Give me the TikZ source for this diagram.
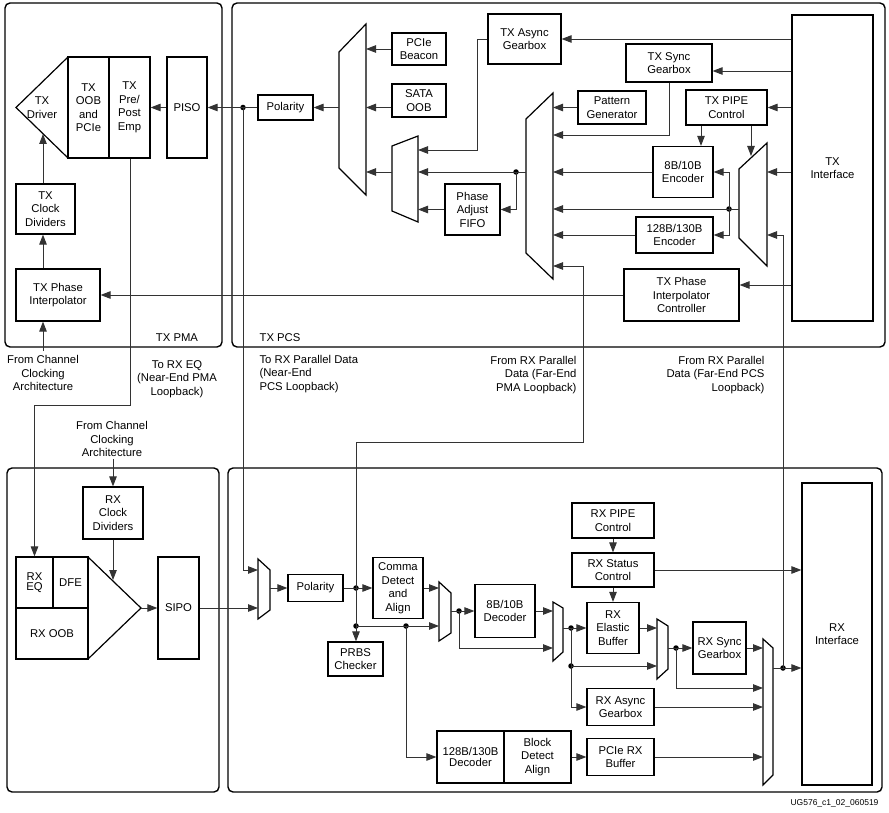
\documentclass[tikz,border=0pt]{standalone}
\usepackage{fontspec}
\setmainfont{Liberation Sans}
\usetikzlibrary{arrows.meta}

\begin{document}
\begin{tikzpicture}[
  x=1pt, y=-1pt,
  font=\fontsize{11.3}{13.5}\selectfont,
  blk/.style   = {draw=black, line width=1.2pt, align=center, inner sep=0pt},
  muxs/.style  = {draw=black, line width=1.2pt, line join=miter},
  area/.style  = {draw=black, line width=1.4pt, rounded corners=5pt},
  wire/.style  = {draw=black!80, line width=0.9pt},
  arr/.style   = {wire, -{Triangle[length=10pt,width=7.5pt]}},
  dot/.style   = {circle, fill=black, inner sep=0pt, minimum size=5.5pt},
  note/.style  = {align=center},
  tight/.style = {font=\fontsize{11.3}{10.5}\selectfont},
]
\useasboundingbox (0,0) rectangle (889,813);

\def\xclk{43}     % x of TX clock chain
\def\ytx{107.5}   % y of TX serial row

% ---- outer areas -----------------------------------------------------------
\draw[area] (5,3) rectangle (222,347);
\draw[area] (232,3) rectangle (885,347);
\draw[area] (7,468) rectangle (219,792);
\draw[area] (228,468) rectangle (882,792);
\node (lblpma) at (177,338) {TX PMA};
\node (lblpcs) at (280,338) {TX PCS};

% ---- TX PMA ----------------------------------------------------------------
\draw[muxs] (68,57) -- (16,\ytx) -- (68,158);
\node[align=center] (drv) at (42,\ytx) {TX\\Driver};
\node[blk, minimum width=41, minimum height=101] (oob) at (88.5,\ytx) {TX\\OOB\\and\\PCIe};
\node[blk, minimum width=41, minimum height=101] (emp) at (129.5,\ytx) {TX\\Pre/\\Post\\Emp};
\node[blk, minimum width=40, minimum height=101] (piso) at (187,\ytx) {PISO};
\node[blk, minimum width=59, minimum height=50] (txclk) at (45.5,209) {TX\\Clock\\Dividers};
\node[blk, minimum width=84, minimum height=52] (txpi) at (58,295) {TX Phase\\Interpolator};
\coordinate (drvedge) at (\xclk,134);
\coordinate (chin) at (\xclk,351);

\draw[arr] (piso.west) -- (emp.east);
\draw[arr] (txclk.north -| \xclk,0) -- (drvedge);
\draw[arr] (txpi.north -| \xclk,0) -- (txclk.south -| \xclk,0);
\draw[arr] (chin) -- (txpi.south -| \xclk,0);

% ---- TX PCS: output side ---------------------------------------------------
\node[blk, minimum width=55, minimum height=25] (txpol) at (285.5,\ytx) {Polarity};
\draw[muxs] (339,52) -- (366,24) -- (366,195) -- (339,168) -- cycle;
\coordinate (m1l) at (339,110);
\coordinate (m1r) at (366,110);
\node[blk, minimum width=54, minimum height=32] (beacon) at (419,49) {PCIe\\Beacon};
\node[blk, minimum width=54, minimum height=33] (sata) at (419,100.5) {SATA\\OOB};
\draw[muxs] (392,146) -- (418,136) -- (418,222) -- (392,211) -- cycle;
\coordinate (m2l) at (392,180);
\coordinate (m2r) at (418,180);
\node[blk, minimum width=73, minimum height=50] (async) at (524.5,39) {TX Async\\Gearbox};
\node[blk, minimum width=55, minimum height=51] (fifo) at (472.5,209.5) {Phase\\Adjust\\FIFO};
\draw[muxs] (526,119) -- (553,93) -- (553,279) -- (526,253) -- cycle;
\coordinate (m3l) at (526,180);
\coordinate (m3r) at (553,180);
\node[dot] (tj) at (243,\ytx) {};
\node[dot] (j3) at (516,172) {};

\draw[arr] (txpol.west) -- (piso.east);
\draw[arr] (m1l |- txpol.east) -- (txpol.east);
\draw[arr] (beacon.west) -- (m1r |- beacon.west);
\draw[arr] (sata.west |- txpol) -- (m1r |- txpol);
\draw[arr] (m2l |- j3) -- (m1r |- j3);
\draw[wire] (m3l |- j3) -- (j3.center);
\draw[arr] (j3.center) -- (m2r |- j3);
\draw[arr] (j3.center) |- (fifo.east);
\draw[arr] (fifo.west) -- (m2r |- fifo.west);
\draw[arr] (async.west) -| (477,150) -- (m2r |- 0,150);

% ---- TX PCS: encoder side --------------------------------------------------
\node[blk, minimum width=81, minimum height=306] (txif) at (832.5,168) {TX\\Interface};
\node[blk, minimum width=86, minimum height=38] (sync) at (669,63) {TX Sync\\Gearbox};
\node[blk, minimum width=68, minimum height=33] (pgen) at (612,\ytx) {Pattern\\Generator};
\node[blk, minimum width=81, minimum height=35] (pipe) at (726.5,\ytx) {TX PIPE\\Control};
\node[blk, minimum width=60, minimum height=51] (enc8) at (683,172) {8B/10B\\Encoder};
\node[blk, minimum width=77, minimum height=36] (enc128) at (674.5,235) {128B/130B\\Encoder};
\node[blk, minimum width=115, minimum height=52] (pictl) at (681.5,295) {TX Phase\\Interpolator\\Controller};
\draw[muxs] (739,169) -- (767,143) -- (767,266) -- (739,238) -- cycle;
\coordinate (m4l) at (739,209);
\coordinate (m4r) at (767,209);
\coordinate (m4top) at (751,156);
\node[dot] (j4) at (729,209) {};

\draw[arr] (txif.west |- async.east) -- (async.east);
\draw[arr] (txif.west |- 0,71) -- (sync.east |- 0,71);
\draw[arr] (sync.south) |- (m3r |- 0,135);
\draw[arr] (pgen.west) -- (m3r |- pgen.west);
\draw[arr] (txif.west |- pipe.east) -- (pipe.east);
\draw[arr] (pipe.south -| 701,0) -- (enc8.north -| 701,0);
\draw[arr] (pipe.south -| m4top) -- (m4top);
\draw[arr] (enc8.west) -- (m3r |- enc8.west);
\draw[wire] (m4l) -- (j4.center);
\draw[arr] (j4.center) -- (m3r |- j4);
\draw[arr] (j4.center) |- (enc8.east);
\draw[arr] (j4.center) |- (enc128.east);
\draw[arr] (enc128.west) -- (m3r |- enc128.west);
\draw[arr] (txif.west |- enc8.east) -- (m4r |- enc8.east);
\draw[arr] (txif.west |- 0,285) -- (pictl.east |- 0,285);
\draw[arr] (pictl.west) -- (txpi.east);

% ---- labels between TX and RX ----------------------------------------------
\node[note] (lclk1) at (43,373) {From Channel\\Clocking\\Architecture};
\node[note] (leq) at (177,379) {To RX EQ\\(Near-End PMA\\Loopback)};
\node[note] (lclk2) at (112,439) {From Channel\\Clocking\\Architecture};
\node[align=left, anchor=west] (lnepcs) at (256,374) {To RX Parallel Data\\(Near-End\\PCS Loopback)};
\node[align=right, anchor=east] (lfepma) at (580,375) {From RX Parallel\\Data (Far-End\\PMA Loopback)};
\node[align=right, anchor=east] (lfepcs) at (768,375) {From RX Parallel\\Data (Far-End PCS\\Loopback)};
\node[font=\fontsize{8.5}{10}\selectfont, anchor=east] (ug) at (882,803) {UG576\_c1\_02\_060519};

% ---- RX PMA ----------------------------------------------------------------
\node[blk, minimum width=60, minimum height=52] (rxclk) at (113,513) {RX\\Clock\\Dividers};
\node[blk, tight, minimum width=37, minimum height=51] (rxeq) at (34.5,582.5) {RX\\EQ};
\node[blk, minimum width=35, minimum height=51] (dfe) at (70.5,582.5) {DFE};
\node[blk, minimum width=72, minimum height=51] (rxoob) at (52,633.5) {RX OOB};
\draw[muxs] (88,557) -- (141,608) -- (88,659);
\node[blk, minimum width=41, minimum height=102] (sipo) at (178.5,608) {SIPO};
\coordinate (rxtip) at (141,608);
\coordinate (rxedge) at (113,580);
\coordinate (chin2) at (113,459);

\draw[arr] (emp.south -| 130,0) |- (rxeq.north |- 0,405) -- (rxeq.north);
\draw[arr] (chin2) -- (rxclk.north);
\draw[arr] (rxclk.south) -- (rxedge);
\draw[arr] (rxtip) -- (sipo.west);

% ---- RX PCS ----------------------------------------------------------------
\draw[muxs] (258,559) -- (270,570) -- (270,610) -- (258,619) -- cycle;
\coordinate (rm1l) at (258,588);
\coordinate (rm1r) at (270,588);
\node[blk, minimum width=55, minimum height=27] (rxpol) at (315.5,588) {Polarity};
\node[blk, minimum width=50, minimum height=61] (comma) at (398,588) {Comma\\Detect\\and\\Align};
\node[blk, minimum width=55, minimum height=34] (prbs) at (355.5,659) {PRBS\\Checker};
\draw[muxs] (439,582) -- (451,593) -- (451,633) -- (439,641) -- cycle;
\coordinate (rm2l) at (439,611);
\coordinate (rm2r) at (451,611);
\node[blk, minimum width=60, minimum height=53] (dec8) at (505,611) {8B/10B\\Decoder};
\draw[muxs] (553,602) -- (563,608) -- (563,652) -- (553,661) -- cycle;
\coordinate (rm3l) at (553,628);
\coordinate (rm3r) at (563,628);
\node[blk, tight, minimum width=67, minimum height=52] (dec128) at (470.5,757) {128B/130B\\Decoder};
\node[blk, minimum width=67, minimum height=52] (bda) at (537.5,757) {Block\\Detect\\Align};
\node[blk, minimum width=82, minimum height=35] (rxpipe) at (613,520.5) {RX PIPE\\Control};
\node[blk, minimum width=82, minimum height=34] (rxstat) at (613,570) {RX Status\\Control};
\node[blk, minimum width=52, minimum height=51] (ebuf) at (613,628) {RX\\Elastic\\Buffer};
\draw[muxs] (657,619) -- (668,626) -- (668,669) -- (657,679) -- cycle;
\coordinate (rm4l) at (657,648);
\coordinate (rm4r) at (668,648);
\node[blk, minimum width=53, minimum height=52] (rxsync) at (719.5,648) {RX Sync\\Gearbox};
\node[blk, minimum width=67, minimum height=37] (rxasync) at (620.5,707) {RX Async\\Gearbox};
\node[blk, minimum width=67, minimum height=37] (pcierx) at (620.5,757) {PCIe RX\\Buffer};
\draw[muxs] (763,639) -- (773,648) -- (773,775) -- (763,785) -- cycle;
\coordinate (rm5l) at (763,668);
\coordinate (rm5r) at (773,668);
\node[blk, minimum width=70, minimum height=302] (rxif) at (837,634) {RX\\Interface};
\node[dot] (rj1) at (356,588) {};
\node[dot] (rj2) at (356,626) {};
\node[dot] (rj3) at (406,626) {};
\node[dot] (rj4) at (459,611) {};
\node[dot] (rj5) at (571,628) {};
\node[dot] (rj6) at (571,666) {};
\node[dot] (rj7) at (676,648) {};
\node[dot] (rj8) at (783,668) {};

\draw[arr] (tj.center) |- (rm1l |- 0,570);
\draw[arr] (sipo.east) -- (rm1l |- sipo.east);
\draw[arr] (rm1r |- rxpol.west) -- (rxpol.west);
\draw[wire] (rxpol.east) -- (rj1.center);
\draw[arr] (rj1.center) -- (comma.west |- rj1);
\draw[wire] (rj1.center) -- (rj2.center);
\draw[arr] (rj2.center) -- (prbs.north -| rj2);
\draw[wire] (rj2.center) -- (rj3.center);
\draw[arr] (rj3.center) -- (rm2l |- rj3);
\draw[arr] (rj3.center) |- (dec128.west);
\draw[arr] (comma.east) -- (rm2l |- comma.east);
\draw[wire] (rm2r) -- (rj4.center);
\draw[arr] (rj4.center) -- (dec8.west);
\draw[arr] (rj4.center) |- (rm3l |- 0,648);
\draw[arr] (dec8.east) -- (rm3l |- dec8.east);
\draw[wire] (rm3r) -- (rj5.center);
\draw[arr] (rj5.center) -- (ebuf.west);
\draw[wire] (rj5.center) -- (rj6.center);
\draw[arr] (rj6.center) -- (rm4l |- rj6);
\draw[arr] (rj6.center) |- (rxasync.west);
\draw[arr] (ebuf.east) -- (rm4l |- ebuf.east);
\draw[wire] (rm4r) -- (rj7.center);
\draw[arr] (rj7.center) -- (rxsync.west);
\draw[arr] (rj7.center) |- (rm5l |- 0,688);
\draw[arr] (rxsync.east) -- (rm5l |- rxsync.east);
\draw[arr] (rxasync.east) -- (rm5l |- rxasync.east);
\draw[arr] (bda.east) -- (pcierx.west);
\draw[arr] (pcierx.east) -- (rm5l |- pcierx.east);
\draw[wire] (rm5r) -- (rj8.center);
\draw[arr] (rj8.center) -- (rxif.west |- rj8);
\draw[arr] (rxpipe.south) -- (rxstat.north);
\draw[arr] (rxstat.south) -- (ebuf.north);
\draw[arr] (rxstat.east) -- (rxif.west |- rxstat.east);

% ---- loopback paths --------------------------------------------------------
\draw[arr] (rj1.center) |- (583,442) |- (m3r |- 0,266);
\draw[arr] (rj8.center) |- (m4r |- enc128.east);

\end{tikzpicture}
\end{document}
